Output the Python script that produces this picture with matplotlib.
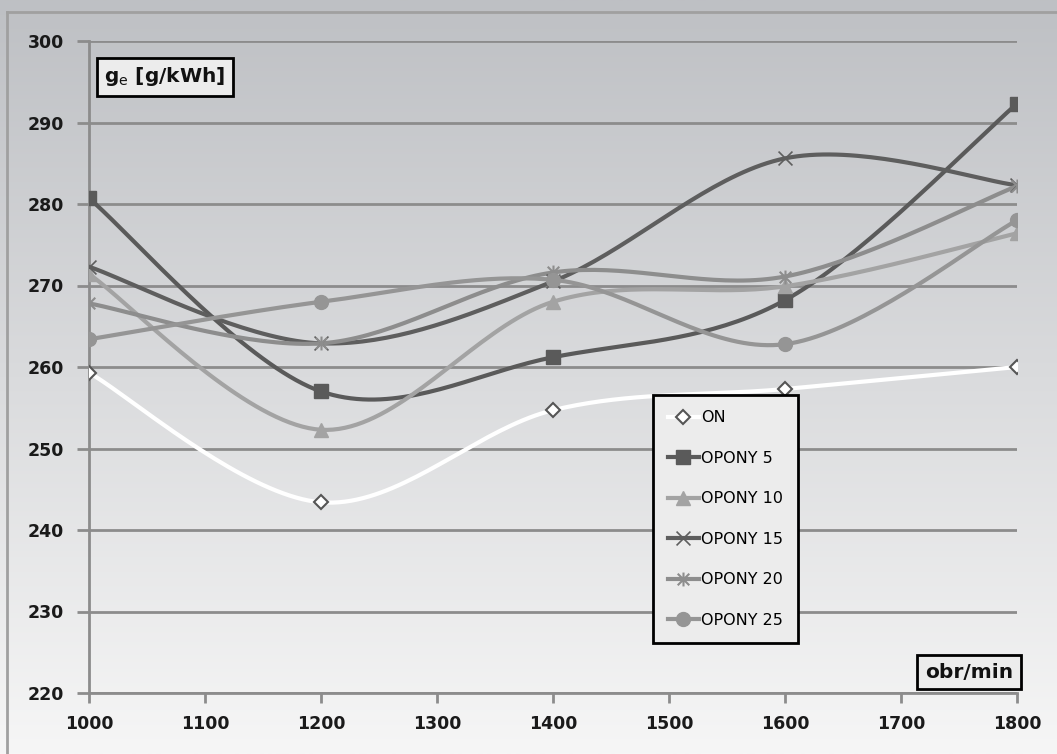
import numpy as np
import matplotlib
matplotlib.use('Agg')
import matplotlib.pyplot as plt
from matplotlib.path import Path
from matplotlib.lines import Line2D

########## data ##########
obr = [1000, 1200, 1400, 1600, 1800]
on_vals = [259.3, 243.4, 254.7, 257.3, 260.0]
opony5 = [280.7, 257.0, 261.2, 268.2, 292.3]
opony10 = [271.4, 252.3, 268.0, 269.9, 276.4]
opony15 = [272.3, 262.9, 270.5, 285.6, 282.3]
opony20 = [267.8, 262.9, 271.6, 271.1, 282.2]
opony25 = [263.4, 268.0, 270.7, 262.8, 278.0]

labels = ['ON', 'OPONY 5', 'OPONY 10', 'OPONY 15', 'OPONY 20', 'OPONY 25']
series = [on_vals, opony5, opony10, opony15, opony20, opony25]

xlim = (1000, 1800)
ylim = (220, 300)

plt.rcParams['font.family'] = ['DejaVu Sans']
plt.rcParams['mathtext.fontset'] = 'dejavusans'

# star marker like Excel (x plus vertical bar)
star = Path([(-1, -1), (1, 1), (-1, 1), (1, -1), (0, -1.2), (0, 1.2)],
            [Path.MOVETO, Path.LINETO, Path.MOVETO, Path.LINETO, Path.MOVETO, Path.LINETO])
xmark = Path([(-1, -1), (1, 1), (-1, 1), (1, -1)],
             [Path.MOVETO, Path.LINETO, Path.MOVETO, Path.LINETO])

styles = [
    dict(color='white', marker='D', ms=7, mfc='white', mec='#555555', mew=1.5),
    dict(color='#5a5a5a', marker='s', ms=10.5, mfc='#5a5a5a', mec='#5a5a5a', mew=1),
    dict(color='#a3a3a3', marker='^', ms=10, mfc='#a3a3a3', mec='#a3a3a3', mew=1),
    dict(color='#5e5e5e', marker=xmark, ms=10, mfc='none', mec='#5e5e5e', mew=1.2),
    dict(color='#8d8d8d', marker=star, ms=10, mfc='none', mec='#8d8d8d', mew=1.5),
    dict(color='#959595', marker='o', ms=10, mfc='#959595', mec='#959595', mew=1),
]


def smooth(xv, yv, wpx=928.0, hpx=652.0, n=40):
    # Excel-style smoothed line (bezier through points), done in pixel space
    px = (np.asarray(xv, float) - xlim[0]) / (xlim[1] - xlim[0]) * wpx
    py = (np.asarray(yv, float) - ylim[0]) / (ylim[1] - ylim[0]) * hpx
    P = np.column_stack([px, py])
    P = np.vstack([P[0], P, P[-1]])
    out = []
    t = np.linspace(0, 1, n)[:, None]
    for i in range(1, len(P) - 2):
        p0, p1, p2, p3 = P[i - 1], P[i], P[i + 1], P[i + 2]
        c1 = p1 + (p2 - p0) / 6.0
        c2 = p2 - (p3 - p1) / 6.0
        seg = ((1 - t) ** 3) * p1 + 3 * ((1 - t) ** 2) * t * c1 + 3 * (1 - t) * t ** 2 * c2 + t ** 3 * p2
        out.append(seg if i == 1 else seg[1:])
    out = np.vstack(out)
    sx = out[:, 0] / wpx * (xlim[1] - xlim[0]) + xlim[0]
    sy = out[:, 1] / hpx * (ylim[1] - ylim[0]) + ylim[0]
    return sx, sy


fig = plt.figure(figsize=(10.57, 7.54), dpi=100)

# figure background gradient
bg = fig.add_axes([0, 0, 1, 1], zorder=-10)
grad = np.linspace(0, 1, 256)[:, None]
top = np.array([190, 192, 196]) / 255.0
bot = np.array([246, 246, 246]) / 255.0
img = top[None, None, :] * (1 - grad[:, :, None]) + bot[None, None, :] * grad[:, :, None]
bg.imshow(img, aspect='auto', extent=[0, 1, 0, 1], origin='upper')
bg.set_xlim(0, 1)
bg.set_ylim(0, 1)
bg.axis('off')
bg.plot([7 / 1057, 7 / 1057], [0, 1 - 12 / 754], color='#a0a0a0', lw=2)
bg.plot([7 / 1057, 1], [1 - 12 / 754, 1 - 12 / 754], color='#a0a0a0', lw=2)

ax = fig.add_axes([89 / 1057, 1 - 693 / 754, 928 / 1057, 652 / 754])
ax.set_facecolor('none')

for vals, lab, st in zip(series, labels, styles):
    sx, sy = smooth(obr, vals)
    ax.plot(sx, sy, color=st['color'], lw=3, solid_capstyle='round', zorder=3)
    ax.plot(obr, vals, ls='none', marker=st['marker'], ms=st['ms'], mfc=st['mfc'],
            mec=st['mec'], mew=st['mew'], zorder=4)

ax.set_xlim(*xlim)
ax.set_ylim(*ylim)
ax.set_xticks(np.arange(1000, 1801, 100))
ax.set_yticks(np.arange(220, 301, 10))
ax.yaxis.grid(True, color='#8c8c8c', lw=2)
ax.set_axisbelow(True)
for s in ['top', 'right']:
    ax.spines[s].set_visible(False)
ax.spines['left'].set_color('#8c8c8c')
ax.spines['left'].set_linewidth(2)
ax.spines['bottom'].set_color('#8c8c8c')
ax.spines['bottom'].set_linewidth(2)
ax.tick_params(axis='both', colors='#8c8c8c', width=2, labelcolor='#1a1a1a', labelsize=12.5)
ax.tick_params(axis='y', length=9, pad=9)
ax.tick_params(axis='x', length=7, pad=9)
for t in ax.get_xticklabels() + ax.get_yticklabels():
    t.set_fontweight('bold')

# unit boxes
ax.text(0.0165, 0.945, r'$\mathbf{g}_{\mathrm{e}}$' + ' [g/kWh]', transform=ax.transAxes,
        fontsize=14.5, fontweight='bold', color='#111111', va='center', ha='left',
        bbox=dict(boxstyle='square,pad=0.38', fc='#ececec', ec='black', lw=2), zorder=6)
ax.text(0.9957, 0.032, 'obr/min', transform=ax.transAxes,
        fontsize=14.5, fontweight='bold', color='#111111', va='center', ha='right',
        bbox=dict(boxstyle='square,pad=0.38', fc='#ececec', ec='black', lw=2), zorder=6)

handles = [Line2D([0], [0], color=st['color'], lw=3, marker=st['marker'], ms=st['ms'],
                  mfc=st['mfc'], mec=st['mec'], mew=st['mew']) for st in styles]
leg = ax.legend(handles, labels, loc='upper left', bbox_to_anchor=(564 / 928, 1 - 354 / 652),
                frameon=True, fancybox=False, edgecolor='black', facecolor='#ececec',
                framealpha=1, fontsize=11.5, handlelength=1.9, handletextpad=0.15,
                labelspacing=1.6, borderpad=0.95, borderaxespad=0)
leg.get_frame().set_linewidth(2)
leg.set_zorder(7)

fig.savefig('out.png', dpi=100)
